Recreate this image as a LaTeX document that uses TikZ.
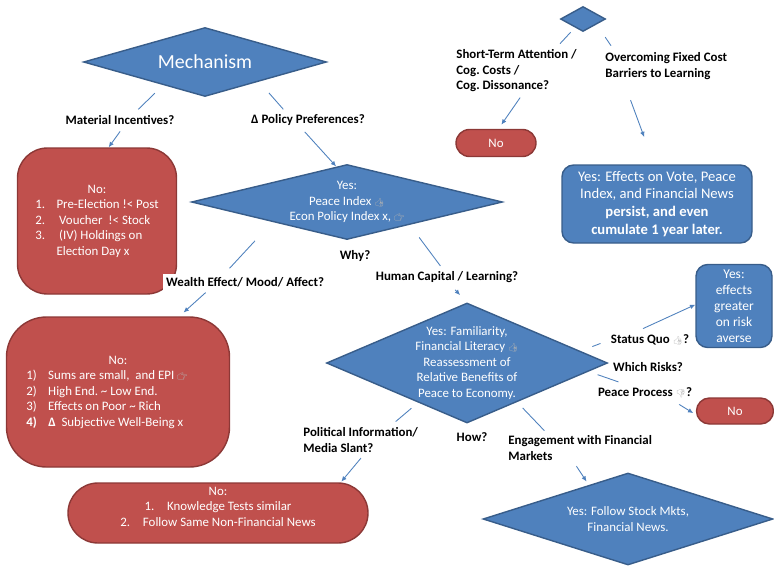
\documentclass[tikz,border=0pt]{standalone}
\usepackage{fontspec}
\setmainfont{Carlito}
\newfontfamily\symfont{Noto Emoji}
\usetikzlibrary{arrows.meta,shapes.geometric,shapes.misc}

% small hand signs
\newcommand{\icup}{{\symfont\fontsize{7}{7}\selectfont\color{gray!60}👍}}
\newcommand{\icdown}{{\symfont\fontsize{7}{7}\selectfont\color{gray!60}👎}}
\newcommand{\icright}{{\symfont\fontsize{7}{7}\selectfont\color{gray!60}👉}}

\begin{document}
\begin{tikzpicture}[x=0.3mm, y=-0.3mm,
    every node/.style={font=\fontsize{11}{13.2}\selectfont},
    bluediam/.style={diamond, draw=bluedark, line width=1.2pt, fill=blueoff, inner sep=0pt},
    intext/.style={text=white, align=center},
    redbox/.style={draw=reddark, line width=1.2pt, fill=redoff, text=white, align=center, inner sep=0pt},
    redpill/.style={rounded rectangle, draw=reddark, line width=1.2pt, fill=redoff, text=white, align=center, inner sep=0pt},
    bluebox/.style={rounded corners=3.5mm, draw=bluedark, line width=1.2pt, fill=blueoff, text=white, align=center, inner sep=0pt},
    question/.style={font=\fontsize{11}{13.2}\selectfont\bfseries, inner sep=1pt},
    link/.style={blueoff, line width=0.75pt},
    arr/.style={link, -{Latex[length=1.6mm, width=1.4mm]}}
  ]

\definecolor{blueoff}{RGB}{79,129,189}
\definecolor{bluedark}{RGB}{56,93,138}
\definecolor{redoff}{RGB}{192,80,77}
\definecolor{reddark}{RGB}{140,56,54}

\useasboundingbox (0,0) rectangle (774,565);

% diamonds
\node[bluediam, minimum width=72.9mm, minimum height=20.7mm,
      label={[intext, font=\fontsize{17}{20}\selectfont]center:Mechanism}] (mech) at (205,62) {};
\node[bluediam, minimum width=93.3mm, minimum height=22.5mm,
      label={[intext]center:{Yes:\\Peace Index \icup\\Econ Policy Index x, \icright}}] (prefyes) at (347,202) {};
\node[bluediam, minimum width=84.3mm, minimum height=36mm,
      label={[intext]center:{Yes: Familiarity,\\Financial Literacy \icup\\Reassessment of\\Relative Benefits of\\Peace to Economy.}}] (how) at (467,363) {};
\node[bluediam, minimum width=87mm, minimum height=27.6mm,
      label={[intext]center:{Yes: Follow Stock Mkts,\\Financial News.}}] (stock) at (628,519) {};
\node[bluediam, minimum width=13.5mm, minimum height=7.5mm] (learn) at (583,19) {};

% answers
\node[redbox, rounded corners=9mm, minimum width=47.7mm, minimum height=43.8mm] (incno) at (97,221)
  {\begin{tabular}{@{}l@{\hspace{3.4mm}}l@{}}
   \multicolumn{2}{@{}c@{}}{No:}\\
   1. & Pre-Election !< Post\\
   2. & \hspace{0.8mm}Voucher~ !< Stock\\
   3. & \hspace{0.8mm}(IV) Holdings on\\
      & Election Day x
   \end{tabular}};
\node[redbox, rounded corners=12mm, minimum width=66.9mm, minimum height=45mm] (wealthno) at (118,392)
  {\begin{tabular}{@{}l@{\hspace{3.4mm}}l@{\hspace{6.6mm}}}
   \multicolumn{2}{@{}c@{}}{No:}\\
   1) & Sums are small,~ and EPI \icright\\
   2) & High End.\ \textasciitilde{} Low End.\\
   3) & Effects on Poor \textasciitilde{} Rich\\
   \textbf{4)} & \textbf{Δ}~ Subjective Well-Being x
   \end{tabular}};
\node[redpill, minimum width=90mm, minimum height=18mm] (mediano) at (218,513)
  {No:\\1.\quad Knowledge Tests similar\\2.\quad Follow Same Non-Financial News\\[-2pt]{}};
\node[redpill, minimum width=24mm, minimum height=8.1mm] (attno) at (496,143) {No};
\node[redpill, minimum width=23.1mm, minimum height=7.8mm] (peaceno) at (735,411) {No};
\node[bluebox, minimum width=57mm, minimum height=23.4mm, font=\fontsize{12.5}{15.3}\selectfont] (persist) at (657,204)
  {Yes: Effects on Vote, Peace\\Index, and Financial News\\\textbf{persist, and even}\\\textbf{cumulate 1 year later.}};
\node[bluebox, minimum width=22.8mm, minimum height=24.9mm, font=\fontsize{11.5}{13.6}\selectfont] (riskyes) at (734,306)
  {Yes:\\effects\\greater\\on risk\\averse};

% questions
\node[question] (matinc) at (120,120) {Material Incentives?};
\node[question] (polpref) at (308,120) {Δ Policy Preferences?};
\node[question, fill=white, inner sep=3pt] (wealth) at (245,282) {Wealth Effect/ Mood/ Affect?};
\node[question] (why) at (355,256) {Why?};
\node[question] (humcap) at (447,277) {Human Capital / Learning?};
\node[question, align=left, anchor=west] (polinfo) at (302,440) {Political Information/\\Media Slant?};
\node[question] (howq) at (472,437) {How?};
\node[question, align=left, anchor=west] (engage) at (507,448) {Engagement with Financial\\Markets};
\node[question] (statusq) at (650,340) {Status Quo \icup?};
\node[question] (risks) at (648,367) {Which Risks?};
\node[question] (peacep) at (645,393) {Peace Process \icdown?};
\node[question, align=left, anchor=west] (shortt) at (455,71) {Short-Term Attention /\\Cog.\ Costs /\\Cog.\ Dissonance?};
\node[question, align=left, anchor=west] (overc) at (604,66) {Overcoming Fixed Cost\\Barriers to Learning};

% links
\draw[link, shorten <=3.5mm, shorten >=2mm] (mech.-151) -- (matinc.24);
\draw[arr, shorten <=2mm] (matinc.-56) -- (incno.81);
\draw[link, shorten <=4.5mm, shorten >=1.5mm] (mech.-20) -- (polpref.162);
\draw[arr, shorten <=2mm] (polpref.222) -- (prefyes.107);
\draw[link, shorten <=7.7mm, shorten >=2.1mm] (prefyes.-165) -- (wealth.157);
\draw[arr, shorten <=0.9mm, shorten >=1.7mm] (wealth.193) -- (wealthno.51);
\draw[link, shorten <=4.7mm, shorten >=1.5mm] (prefyes.-20) -- (humcap.117);
\draw[arr, shorten <=2.4mm, shorten >=3mm] (humcap.-70) -- (how.north);
\draw[link, shorten <=2.6mm, shorten >=2.2mm] (how.-141) -- (polinfo.25);
\draw[arr, shorten <=1.7mm, shorten >=0.3mm] (polinfo.-74) -- (mediano.14);
\draw[link, shorten <=2.4mm, shorten >=1.5mm] (how.-38) -- (engage.157);
\draw[arr, shorten <=1.6mm, shorten >=1.2mm] (engage.-116) -- (stock.139);
\draw[link, shorten <=3.8mm, shorten >=2.9mm] (how.6) -- (statusq.west);
\draw[arr, shorten <=3.4mm] (statusq.159) -- (riskyes.178);
\draw[link, shorten <=2.9mm, shorten >=4.2mm] (how.-4.5) -- (peacep.154);
\draw[arr, shorten <=2.8mm, shorten >=1.1mm] (peacep.-14) -- (peaceno.-174);
\draw[link, shorten <=1.9mm, shorten >=2mm] (learn.-133) -- (shortt.30);
\draw[arr, shorten <=1.5mm, shorten >=1.5mm] (shortt.-74) -- (attno.80);
\draw[link, shorten <=4.6mm, shorten >=2mm] (learn.-22) -- (overc.164);
\draw[arr, shorten <=6.2mm, shorten >=8.7mm] (overc.-161) -- (persist.94.5);

\end{tikzpicture}
\end{document}
